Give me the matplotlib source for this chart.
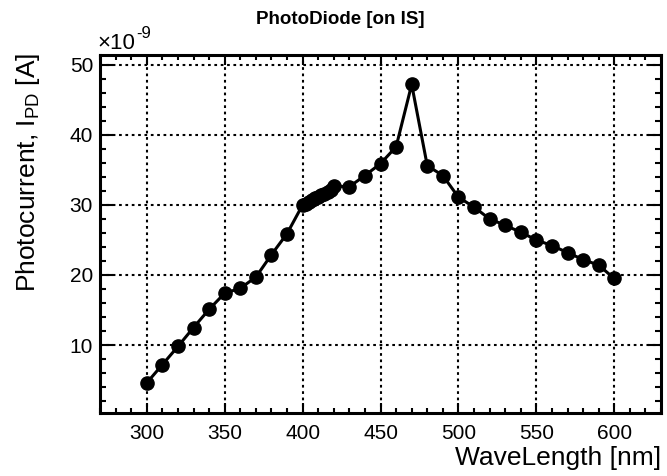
import matplotlib
matplotlib.use("Agg")
import matplotlib.pyplot as plt
from matplotlib.ticker import MultipleLocator

plt.rcParams["font.family"] = ["Liberation Sans", "DejaVu Sans"]
plt.rcParams["mathtext.fontset"] = "custom"
plt.rcParams["mathtext.rm"] = "Liberation Sans"
plt.rcParams["mathtext.it"] = "Liberation Sans"

# photodiode current vs wavelength, current in units of 1e-9 A
wavelength = [300, 310, 320, 330, 340, 350, 360, 370, 380, 390,
              400, 402, 404, 406, 408, 410, 412, 414, 416, 418, 420,
              430, 440, 450, 460, 470, 480, 490, 500, 510,
              520, 530, 540, 550, 560, 570, 580, 590, 600]
current = [4.6, 7.2, 9.8, 12.5, 15.1, 17.4, 18.1, 19.7, 22.9, 25.9,
           30.0, 30.2, 30.4, 30.7, 31.0, 31.2, 31.4, 31.6, 31.8, 32.2, 32.7,
           32.6, 34.2, 35.9, 38.3, 47.2, 35.6, 34.2, 31.1, 29.7,
           28.0, 27.1, 26.1, 25.0, 24.2, 23.2, 22.2, 21.4, 19.5]
scale_exp = -9

fig = plt.figure(figsize=(6.67, 4.76), dpi=100)
ax = fig.add_axes([0.15, 0.1324, 0.841, 0.752])

ax.plot(wavelength, current, color="black", lw=2.2, marker="o",
        markersize=9.5, markerfacecolor="black", markeredgecolor="black",
        zorder=3)

ax.set_xlim(270, 630)
ax.set_ylim(0.3, 51.4)

ax.xaxis.set_minor_locator(MultipleLocator(10))
ax.yaxis.set_minor_locator(MultipleLocator(2))
ax.set_xticks([300, 350, 400, 450, 500, 550, 600])
ax.set_yticks([10, 20, 30, 40, 50])

ax.tick_params(axis="both", which="both", direction="in", top=True,
               right=True, width=1.5, color="black", labelsize=15)
ax.tick_params(axis="x", which="major", length=7.5, pad=8)
ax.tick_params(axis="x", which="minor", length=3.6)
ax.tick_params(axis="y", which="major", length=9.5, pad=5)
ax.tick_params(axis="y", which="minor", length=4)

for sp in ax.spines.values():
    sp.set_linewidth(2.2)

ax.grid(True, which="major", color="black", lw=1.5,
        linestyle=(0, (1.3, 1.75)), zorder=1)
ax.set_axisbelow(True)

fig.text(340 / 667, 1 - 19 / 476, "PhotoDiode [on IS]", ha="center",
         va="center", fontsize=13.5, fontweight="bold")
fig.text(97 / 667, 1 - 49 / 476, "\u00d710", ha="left", va="baseline",
         fontsize=16)
fig.text(136 / 667, 1 - 38 / 476, "-%d" % abs(scale_exp), ha="left",
         va="baseline", fontsize=12)
fig.text(661 / 667, 1 - 446 / 476, "WaveLength [nm]", ha="right",
         va="top", fontsize=19)
fig.text(14 / 667, 1 - 53 / 476, r"Photocurrent, I$_{\rm PD}$ [A]",
         ha="left", va="top", rotation=90, fontsize=19)

fig.savefig("out.png", dpi=100)
